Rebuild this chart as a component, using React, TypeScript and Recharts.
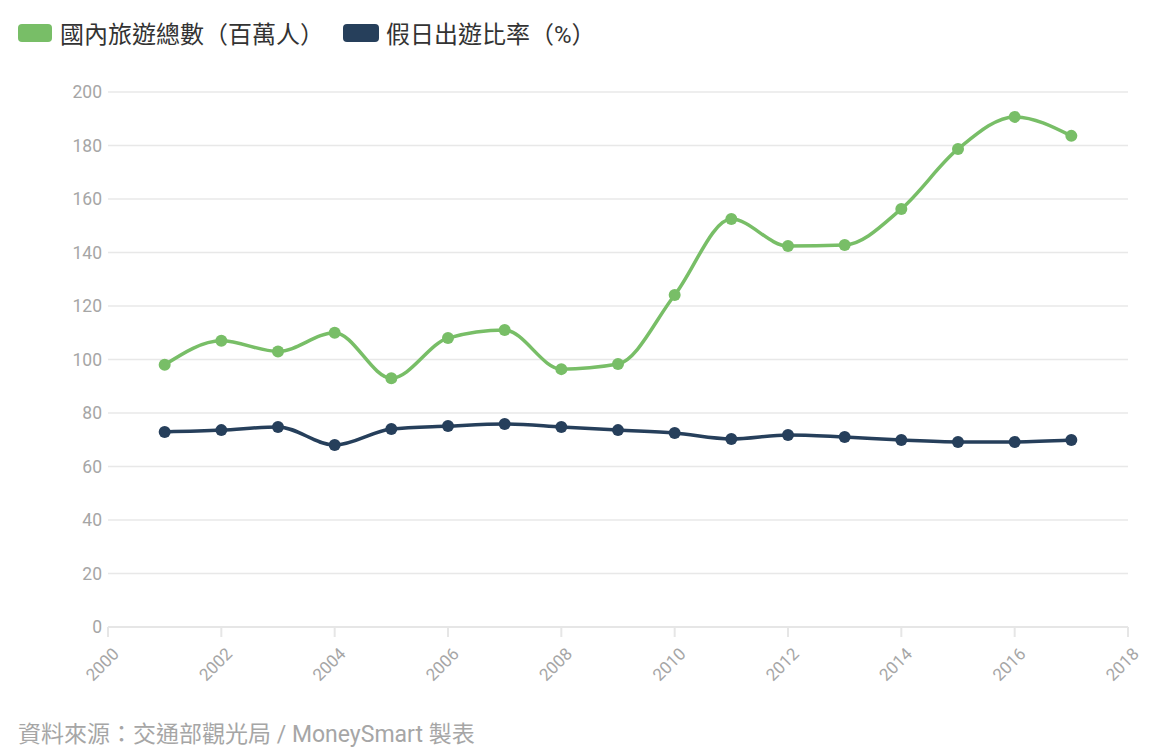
import React from 'react';
import { LineChart, Line, XAxis, YAxis, CartesianGrid } from 'recharts';

const years = [2001, 2002, 2003, 2004, 2005, 2006, 2007, 2008, 2009, 2010, 2011, 2012, 2013, 2014, 2015, 2016, 2017];
const domesticTrips = [98, 107, 103, 110, 93, 108, 111, 96.4, 98.3, 124.1, 152.5, 142.4, 142.8, 156.3, 178.7, 190.7, 183.6];
const holidayRatio = [72.9, 73.6, 74.8, 68, 74, 75.1, 75.9, 74.8, 73.6, 72.5, 70.3, 71.8, 71, 69.9, 69.2, 69.2, 69.9];
const xTicks = [2000, 2002, 2004, 2006, 2008, 2010, 2012, 2014, 2016, 2018];
const yTicks = [0, 20, 40, 60, 80, 100, 120, 140, 160, 180, 200];

const GREEN = '#78be67';
const NAVY = '#263f5b';
const FONT = 'Roboto, "Noto Sans CJK TC", sans-serif';

const data = years.map((y, i) => ({
  year: y,
  trips: domesticTrips[i],
  ratio: holidayRatio[i],
}));

// rotated year labels, end of text sits just right of the tick
const XTick = ({ x, y, payload }: any) => (
  <text
    x={x + 12}
    y={y + 16}
    textAnchor="end"
    fill="#a6a6a6"
    fontSize={17}
    fontFamily={FONT}
    transform={`rotate(-45, ${x + 12}, ${y + 16})`}
  >
    {payload.value}
  </text>
);

const App = () => {
  return (
    <div style={{ position: 'absolute', left: 0, top: 0, width: 1156, height: 754, background: '#fff', fontFamily: FONT }}>
      <div style={{ position: 'absolute', left: 18, top: 15, display: 'flex', alignItems: 'center', fontSize: 24, color: '#333' }}>
        <span style={{ display: 'inline-block', width: 34, height: 18, borderRadius: 4, background: GREEN, marginRight: 8 }} />
        <span>國內旅遊總數（百萬人）</span>
        <span style={{ display: 'inline-block', width: 36, height: 18, borderRadius: 4, background: NAVY, marginLeft: 19, marginRight: 7 }} />
        <span>假日出遊比率（%）</span>
      </div>
      <LineChart width={1156} height={700} data={data} margin={{ top: 92, right: 28, left: 48, bottom: 0 }}>
        <CartesianGrid vertical={false} stroke="#e8e8e8" strokeWidth={1.5} />
        <XAxis
          dataKey="year"
          type="number"
          domain={[2000, 2018]}
          ticks={xTicks}
          interval={0}
          height={73}
          stroke="#e6e6e6"
          strokeWidth={2}
          tickSize={10}
          tick={<XTick />}
        />
        <YAxis
          type="number"
          domain={[0, 200]}
          ticks={yTicks}
          width={60}
          axisLine={false}
          tickLine={false}
          tick={{ fill: '#a6a6a6', fontSize: 17.5, fontFamily: FONT }}
          tickMargin={0}
        />
        <Line
          type="monotone"
          dataKey="trips"
          stroke={GREEN}
          strokeWidth={3.5}
          dot={{ r: 6, fill: GREEN, stroke: GREEN, strokeWidth: 0 }}
          isAnimationActive={false}
        />
        <Line
          type="monotone"
          dataKey="ratio"
          stroke={NAVY}
          strokeWidth={3.5}
          dot={{ r: 6, fill: NAVY, stroke: NAVY, strokeWidth: 0 }}
          isAnimationActive={false}
        />
      </LineChart>
      <div style={{ position: 'absolute', left: 18, top: 715, fontSize: 23, color: '#a6a6a6' }}>
        資料來源：交通部觀光局 / MoneySmart 製表
      </div>
    </div>
  );
};

export default App;
